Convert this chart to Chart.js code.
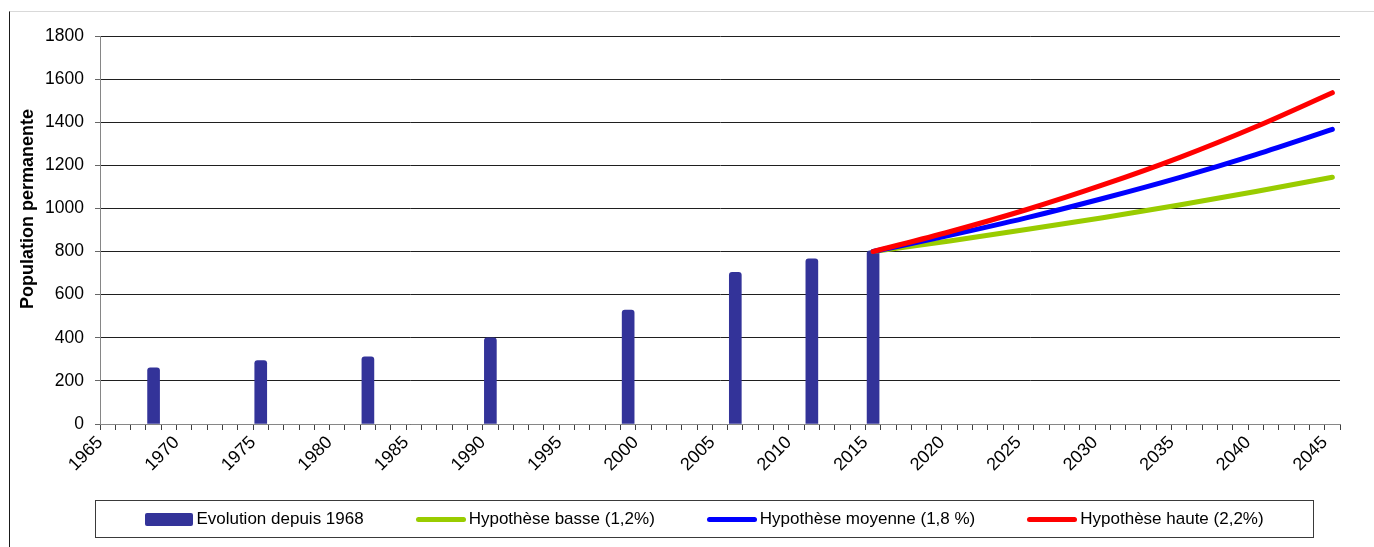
<!DOCTYPE html>
<html lang="fr">
<head>
<meta charset="utf-8">
<title>Population permanente</title>
<script src="https://cdn.jsdelivr.net/npm/chart.js@4.4.1/dist/chart.umd.min.js"></script>
<style>
  html, body { margin: 0; padding: 0; background: #fff; }
  #wrap { position: relative; width: 1374px; height: 547px; overflow: hidden; font-family: "Liberation Sans", Arial, sans-serif; }
  #frame { position: absolute; left: 9px; top: 11px; right: -2px; bottom: -2px; border-top: 1px solid #d9d9d9; border-left: 1px solid #1a1a1a; }
  #chart { position: absolute; left: 0; top: 0; }
  #legend {
    position: absolute; left: 95px; top: 500px; width: 1217px; height: 36px;
    border: 1px solid #3a3a3a; box-sizing: content-box;
    display: flex; align-items: center; justify-content: center; gap: 52px;
    font-size: 17px; color: #000;
  }
  .legend-item { display: flex; align-items: center; white-space: nowrap; }
  .legend-swatch { margin-right: 3px; }
  .legend-swatch.bar  { width: 48px; height: 13px; border-radius: 2px; }
  .legend-swatch.line { width: 50px; height: 5px; border-radius: 3px; }
</style>
</head>
<body>
<div id="wrap">
  <div id="frame"></div>
  <canvas id="chart" width="1374" height="547"></canvas>
  <div id="legend"></div>
</div>
<script>
// ── Data ──────────────────────────────────────────────────────────────────────
const Y_TITLE = 'Population permanente';

// recensements
const censusYears = [1968, 1975, 1982, 1990, 1999, 2006, 2011, 2015];
const censusPop   = [261, 294, 312, 400, 529, 704, 766, 803];

// projections 2015 → 2045
const projYears = [2015, 2020, 2025, 2030, 2035, 2040, 2045];
const projLow   = [800, 849, 902, 957, 1016, 1079, 1145];
const projMid   = [800, 875, 956, 1046, 1143, 1250, 1367];
const projHigh  = [800, 892, 994, 1109, 1236, 1379, 1537];

const SERIES_LABELS = [
  'Evolution depuis 1968',
  'Hypothèse basse (1,2%)',
  'Hypothèse moyenne (1,8 %)',
  'Hypothèse haute (2,2%)',
];

// ── Axis config ───────────────────────────────────────────────────────────────
const X_MIN = 1965, X_MAX = 2046;
const Y_MIN = 0, Y_MAX = 1800, Y_STEP = 200;
const SLOT = 0.5;   // marks sit in the middle of their year slot

const FONT = '"Liberation Sans", Arial, sans-serif';
const COLORS = { bars: '#333399', low: '#99cc00', mid: '#0000ff', high: '#ff0000' };

const toPoints = (xs, ys) => xs.map((x, i) => ({ x: x + SLOT, y: ys[i] }));

function lineDataset(label, ys, color, order) {
  return {
    type: 'line',
    label,
    data: toPoints(projYears, ys),
    borderColor: color,
    backgroundColor: color,
    borderWidth: 5,
    borderCapStyle: 'round',
    borderJoinStyle: 'round',
    pointRadius: 0,
    cubicInterpolationMode: 'monotone',
    order,
  };
}

// y-axis title, drawn by hand so it can sit a little above the plot's middle
const yTitlePlugin = {
  id: 'yTitle',
  afterDraw(chart) {
    const { ctx, chartArea } = chart;
    ctx.save();
    ctx.translate(28, (chartArea.top + chartArea.bottom) / 2 - 21);
    ctx.rotate(-Math.PI / 2);
    ctx.font = `bold 18px ${FONT}`;
    ctx.fillStyle = '#000';
    ctx.textAlign = 'center';
    ctx.textBaseline = 'middle';
    ctx.fillText(Y_TITLE, 0, 0);
    ctx.restore();
  },
};

// ── Chart ─────────────────────────────────────────────────────────────────────
const chart = new Chart(document.getElementById('chart'), {
  type: 'bar',
  data: {
    datasets: [
      {
        type: 'bar',
        label: SERIES_LABELS[0],
        data: toPoints(censusYears, censusPop),
        backgroundColor: COLORS.bars,
        barThickness: 12,
        borderRadius: { topLeft: 3, topRight: 3 },
        borderSkipped: 'bottom',
        order: 4,
      },
      lineDataset(SERIES_LABELS[1], projLow,  COLORS.low,  3),
      lineDataset(SERIES_LABELS[2], projMid,  COLORS.mid,  2),
      lineDataset(SERIES_LABELS[3], projHigh, COLORS.high, 1),
    ],
  },
  options: {
    responsive: false,
    devicePixelRatio: 1,
    animation: false,
    layout: { padding: { top: 36, right: 34, bottom: 0, left: 0 } },
    plugins: {
      legend: { display: false },
      tooltip: { enabled: false },
    },
    scales: {
      x: {
        type: 'linear',
        min: X_MIN,
        max: X_MAX,
        offset: false,
        grid: {
          offset: false,
          drawOnChartArea: false,
          drawTicks: true,
          tickLength: 6,
          tickColor: '#404040',
        },
        border: { color: '#868686', width: 1 },
        ticks: {
          stepSize: 1,
          autoSkip: false,
          maxRotation: 45,
          minRotation: 45,
          padding: 2,
          color: '#000',
          font: { family: FONT, size: 18 },
          callback: v => (v % 5 === 0 ? String(v) : ''),
        },
        afterFit: scale => { scale.height = 123; },
      },
      y: {
        min: Y_MIN,
        max: Y_MAX,
        grid: {
          color: '#1f1f1f',
          lineWidth: 1,
          tickLength: 5,
          tickColor: '#666',
        },
        border: { color: '#868686', width: 1 },
        ticks: {
          stepSize: Y_STEP,
          padding: 11,
          color: '#000',
          font: { family: FONT, size: 17.5 },
          callback: v => String(v),
        },
        afterFit: scale => { scale.width = 100; },
      },
    },
  },
  plugins: [yTitlePlugin],
});

// ── Legend ────────────────────────────────────────────────────────────────────
function renderLegend(chart) {
  const $legend = document.getElementById('legend');
  $legend.innerHTML = '';
  chart.data.datasets.forEach(ds => {
    const item = document.createElement('div');
    item.className = 'legend-item';
    const swatch = document.createElement('span');
    swatch.className = `legend-swatch ${ds.type === 'line' ? 'line' : 'bar'}`;
    swatch.style.background = ds.backgroundColor;
    const text = document.createElement('span');
    text.textContent = ds.label;
    item.append(swatch, text);
    $legend.appendChild(item);
  });
}

renderLegend(chart);
</script>
</body>
</html>
